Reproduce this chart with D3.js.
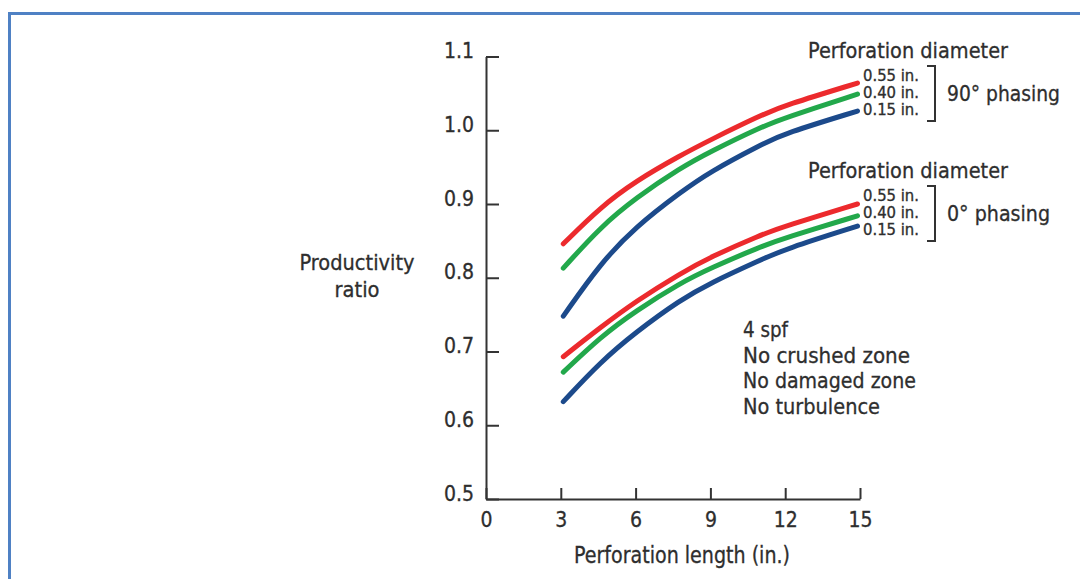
<!DOCTYPE html>
<html>
<head>
<meta charset="utf-8">
<script src="https://cdn.jsdelivr.net/npm/d3@7"></script>
<style>
  body { margin: 0; background: #fff; }
  svg { display: block; }
  text { font-family: "Liberation Sans Narrow", "Arial Narrow", "DejaVu Sans Condensed", sans-serif; fill: #2e2e2e; stroke: #2e2e2e; stroke-width: 0.3px; }
</style>
</head>
<body>
<div id="chart"></div>
<script>
// values
const lengths = [3.1, 4.6, 6, 7.8, 9, 11, 12, 14.9];   // perforation length (in.)
const diameters = ["0.55 in.", "0.40 in.", "0.15 in."];
const phase90 = [
  [0.846, 0.896, 0.931, 0.966, 0.987, 1.020, 1.034, 1.064],  // 0.55 in.
  [0.813, 0.869, 0.908, 0.949, 0.971, 1.004, 1.017, 1.049],  // 0.40 in.
  [0.748, 0.820, 0.869, 0.916, 0.944, 0.980, 0.996, 1.026]   // 0.15 in.
];
const phase0 = [
  [0.693, 0.733, 0.768, 0.806, 0.828, 0.858, 0.870, 0.900],
  [0.672, 0.720, 0.755, 0.793, 0.813, 0.842, 0.854, 0.884],
  [0.632, 0.686, 0.726, 0.770, 0.793, 0.824, 0.839, 0.870]
];
const xTicks = [0, 3, 6, 9, 12, 15];
const yTicks = [0.5, 0.6, 0.7, 0.8, 0.9, 1.0, 1.1];
const notes = ["4 spf", "No crushed zone", "No damaged zone", "No turbulence"];
const colors = ["#ec2a2d", "#22a84b", "#1c4a8b"];

const width = 1080, height = 579;

const svg = d3.select("#chart").append("svg")
  .attr("width", width)
  .attr("height", height);

// blue frame (runs off the right and bottom)
svg.append("rect")
  .attr("x", 9.5).attr("y", 13.5)
  .attr("width", 1200).attr("height", 700)
  .attr("fill", "none")
  .attr("stroke", "#4f81c4")
  .attr("stroke-width", 3);

const x = d3.scaleLinear().domain([0, 15]).range([486, 860]);
const y = d3.scaleLinear().domain([0.5, 1.1]).range([499, 56.5]);

// axes, ticks point inward
const yAxis = d3.axisLeft(y)
  .tickValues(yTicks)
  .tickFormat(d3.format(".1f"))
  .tickSizeInner(-13)
  .tickSizeOuter(0)
  .tickPadding(12);

const xAxis = d3.axisBottom(x)
  .tickValues(xTicks)
  .tickFormat(d3.format("d"))
  .tickSizeInner(-11)
  .tickSizeOuter(0)
  .tickPadding(13);

const gy = svg.append("g").attr("transform", "translate(486,0)").call(yAxis);
const gx = svg.append("g").attr("transform", "translate(0,499)").call(xAxis);

[gx, gy].forEach(g => {
  g.select(".domain").attr("stroke", "#333").attr("stroke-width", 2);
  g.selectAll(".tick line").attr("stroke", "#333").attr("stroke-width", 2);
  g.selectAll(".tick text")
    .attr("font-family", null)
    .attr("font-size", 21)
    .attr("fill", "#2e2e2e");
});
gy.selectAll(".tick text").attr("dy", "0.05em");

// curves (basis keeps them smooth between the read points)
const line = d3.line()
  .x((d, i) => x(lengths[i]))
  .y(d => y(d))
  .curve(d3.curveBasis);

[phase90, phase0].forEach(group => {
  svg.append("g").selectAll("path")
    .data(group)
    .join("path")
    .attr("d", line)
    .attr("fill", "none")
    .attr("stroke", (d, i) => colors[i])
    .attr("stroke-width", 5)
    .attr("stroke-linecap", "round");
});

function label(txt, px, py, size, len, anchor) {
  const t = svg.append("text")
    .attr("x", px).attr("y", py)
    .attr("font-size", size)
    .attr("text-anchor", anchor || "start")
    .text(txt);
  if (len) t.attr("textLength", len).attr("lengthAdjust", "spacingAndGlyphs");
  return t;
}

// axis titles
label("Productivity", 357, 270, 22, 115, "middle");
label("ratio", 357, 297, 22, 45, "middle");
label("Perforation length (in.)", 682, 563, 23, 216, "middle");

// legend blocks: one for 90° and one for 0° phasing
const legend = [
  { top: 0, phasing: "90° phasing", len: 113 },
  { top: 120, phasing: "0° phasing", len: 103 }
];
legend.forEach(l => {
  label("Perforation diameter", 808, 58 + l.top, 22, 200);
  diameters.forEach((d, i) => {
    label(d, 863, 81 + l.top + i * 17, 15, 56);
  });
  svg.append("path")
    .attr("d", `M927,${66 + l.top}H935V${121 + l.top}H927`)
    .attr("fill", "none")
    .attr("stroke", "#333")
    .attr("stroke-width", 2);
  label(l.phasing, 947, 101 + l.top, 22, l.len);
});

// conditions note
const noteLen = [45, 167, 173, 137];
notes.forEach((n, i) => {
  label(n, 743, 337 + i * 25.7, 22, noteLen[i]);
});
</script>
</body>
</html>
